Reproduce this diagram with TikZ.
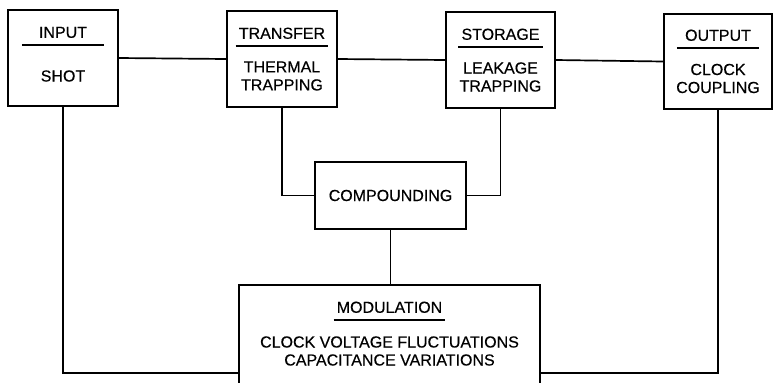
\documentclass[tikz,border=0pt]{standalone}
\usepackage{fontspec}
\setmainfont{Liberation Sans}[FakeBold=0.4]
\begin{document}
\begin{tikzpicture}[x=1bp,y=-1bp,
    block/.style={draw, line width=1.7pt, inner sep=0pt,
      font=\fontsize{16bp}{18bp}\selectfont},
    heading/.style={font=\fontsize{16bp}{18bp}\selectfont,
      minimum width=82bp, inner xsep=3bp, inner ysep=7bp,
      text height=11.5bp, text depth=0pt, anchor=south},
    detail/.style={font=\fontsize{16bp}{18bp}\selectfont,
      align=center, inner sep=0pt},
    rulebar/.style={line width=1.4pt},
    wire/.style={line width=1.7pt}]

  \clip (0,0) rectangle (773,382);

  % Stage boxes (top row)
  \node[block, minimum width=110bp, minimum height=96bp] (input) at (63,58) {};
  \node[block, minimum width=110bp, minimum height=96bp] (transfer) at (282,59) {};
  \node[block, minimum width=109bp, minimum height=96bp] (storage) at (500.5,60) {};
  \node[block, minimum width=108bp, minimum height=95bp] (output) at (718,61.5) {};

  % Middle and bottom boxes
  \node[block, minimum width=151bp, minimum height=67bp] (compounding)
    at (390.5,195.5) {COMPOUNDING};
  \node[block, minimum width=301bp, minimum height=176bp] (modulation)
    at (389.5,373) {};

  % Headings with their rules
  \node[heading] (input-head) at (63,45) {INPUT};
  \node[heading] (transfer-head) at (282,46) {TRANSFER};
  \node[heading] (storage-head) at (500.5,47) {STORAGE};
  \node[heading] (output-head) at (718,48) {OUTPUT};
  \node[heading] (modulation-head) at (389.5,320) {MODULATION};
  \foreach \h in {input,transfer,storage,output,modulation}
    \draw[rulebar] (\h-head.south west) -- (\h-head.south east);

  % Noise sources
  \node[detail] (input-body) at (63,76) {SHOT};
  \node[detail] (transfer-body) at (282,76) {THERMAL\\TRAPPING};
  \node[detail] (storage-body) at (500.5,77) {LEAKAGE\\TRAPPING};
  \node[detail] (output-body) at (718,78.5) {CLOCK\\COUPLING};
  \node[detail] (modulation-body) at (389.5,351)
    {CLOCK VOLTAGE FLUCTUATIONS\\CAPACITANCE VARIATIONS};

  % Connections
  \draw[wire] (input.east) -- (transfer.west);
  \draw[wire] (transfer.east) -- (storage.west);
  \draw[wire] (storage.east) -- (output.west);
  \draw[wire] (transfer.south) |- (compounding.west);
  \draw[wire] (storage.south) |- (compounding.east);
  \draw[wire] (compounding.south) -- (compounding.south |- modulation.north);
  \draw[wire] (input.south) |- (modulation.west);
  \draw[wire] (output.south) |- (modulation.east);
\end{tikzpicture}
\end{document}
